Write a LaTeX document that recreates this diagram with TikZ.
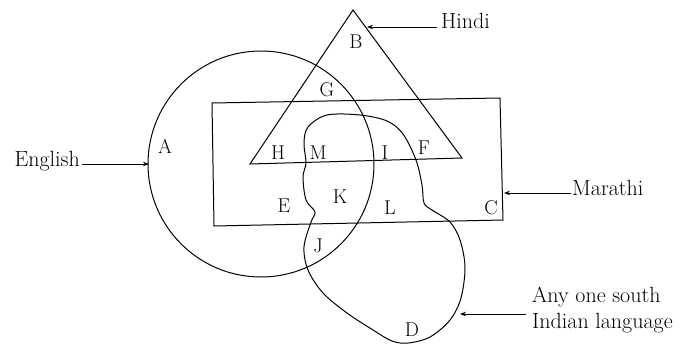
\documentclass[tikz,border=0pt]{standalone}
\usetikzlibrary{arrows.meta}
\begin{document}
\begin{tikzpicture}[x=1pt,y=-1pt,
  letter/.style={font=\fontsize{20}{23}\selectfont, inner sep=0pt},
  caption/.style={font=\fontsize{22}{26}\selectfont, inner sep=0pt},
  outline/.style={line width=1pt},
  pointer/.style={line width=0.9pt,-{Stealth[length=6pt,width=4.5pt]}}]
\useasboundingbox (0,0) rectangle (689,348);
% sets
\draw[outline] (261,164) circle[radius=113];
\draw[outline] (353,10) -- (462,158) -- (250,164) -- cycle;
\draw[outline] (212,103) -- (500,98) -- (503,220) -- (214,226) -- cycle;
\draw[outline] plot[smooth cycle, tension=0.55] coordinates {
  (327,115) (360,115) (387,121) (403,134) (416,160) (422,185) (424,203)
  (432,210) (450,222) (460,240) (465,267) (461,298) (450,320) (430,337)
  (408,343) (392,341) (373,330) (347,313) (323,293) (308,270) (304,247)
  (311,222) (315,212) (306,200) (303,177) (306,163) (304,143) (308,127)};
% region letters
\node[letter] (B) at (356,42) {B};
\node[letter] (G) at (327,90) {G};
\node[letter] (A) at (165,146) {A};
\node[letter] (H) at (278,153) {H};
\node[letter] (M) at (318,153) {M};
\node[letter] (I) at (385,153) {I};
\node[letter] (F) at (424,148) {F};
\node[letter] (E) at (284,206) {E};
\node[letter] (K) at (340,197) {K};
\node[letter] (L) at (390,208) {L};
\node[letter] (C) at (491,208) {C};
\node[letter] (J) at (318,246) {J};
\node[letter] (D) at (412,330) {D};
% captions
\node[caption, anchor=west] (hindi) at (441,21) {Hindi};
\node[caption, anchor=east] (english) at (80,161) {English};
\node[caption, anchor=west] (marathi) at (572,188) {Marathi};
\node[caption, anchor=west, align=left] (south) at (532,310) {Any one south\\Indian language};
% arrow tips
\coordinate (tipH) at (367,27);
\coordinate (tipE) at (149,164);
\coordinate (tipM) at (504,193);
\coordinate (tipS) at (460,314);
\draw[pointer] (437,27) -- (tipH);
\draw[pointer] (english.east |- tipE) ++(2,0) -- (tipE);
\draw[pointer] (571,193) -- (tipM);
\draw[pointer] (526,314) -- (tipS);
\end{tikzpicture}
\end{document}
